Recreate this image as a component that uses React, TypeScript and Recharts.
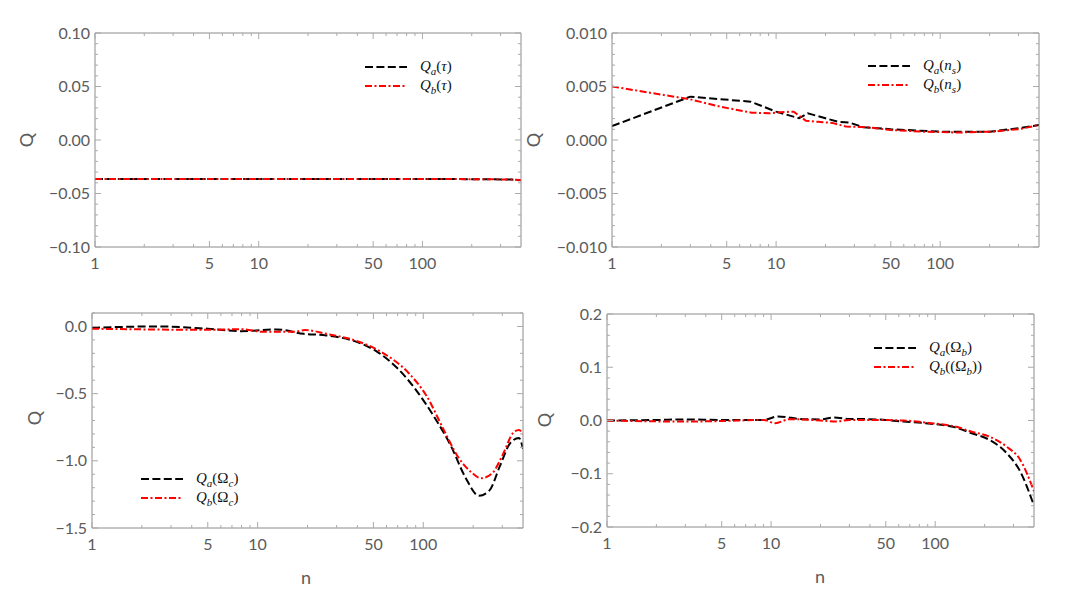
import React from 'react';
import { LineChart, Line, XAxis, YAxis, Legend } from 'recharts';

// shared n axis (log)
const nDomain = [1, 400];
const xMajor = [1, 5, 10, 50, 100];
const xMinor = [2, 3, 4, 6, 7, 8, 9, 20, 30, 40, 60, 70, 80, 90, 200, 300];

// Q(tau)
const nTauA = [1, 2, 5, 10, 20, 50, 100, 200, 300, 350, 400];
const qTauA = [-0.0365, -0.0365, -0.0365, -0.0365, -0.0365, -0.0365, -0.0365, -0.0366, -0.0368, -0.037, -0.0376];
const nTauB = [1, 2, 5, 10, 20, 50, 100, 200, 300, 350, 400];
const qTauB = [-0.0365, -0.0365, -0.0365, -0.0365, -0.0365, -0.0365, -0.0365, -0.0366, -0.0368, -0.037, -0.0375];
const tauMajor = [-0.1, -0.05, 0, 0.05, 0.1];
const tauMinor = [-0.09, -0.08, -0.07, -0.06, -0.04, -0.03, -0.02, -0.01, 0.01, 0.02, 0.03, 0.04, 0.06, 0.07, 0.08, 0.09];

// Q(n_s)
const nNsA = [1, 3, 7, 10, 13.8, 15.6, 20, 24, 28, 34, 50, 100, 200, 300, 400];
const qNsA = [0.0013, 0.00405, 0.00358, 0.00265, 0.00203, 0.0025, 0.00203, 0.0017, 0.00162, 0.0012, 0.001, 0.00078, 0.00078, 0.0011, 0.0014];
const nNsB = [1, 3, 4.6, 7.1, 9.1, 10.6, 12.8, 15.2, 18, 22, 26.7, 35.8, 50, 78, 127, 208, 307, 400];
const qNsB = [0.005, 0.0038, 0.0031, 0.00255, 0.0025, 0.0026, 0.00265, 0.0018, 0.0017, 0.0016, 0.00125, 0.0012, 0.00093, 0.00078, 0.0007, 0.00078, 0.00103, 0.0014];
const nsMajor = [-0.01, -0.005, 0, 0.005, 0.01];
const nsMinor = [-0.009, -0.008, -0.007, -0.006, -0.004, -0.003, -0.002, -0.001, 0.001, 0.002, 0.003, 0.004, 0.006, 0.007, 0.008, 0.009];

// Q(Omega_c)
const nOcA = [1, 2.5, 5, 8, 13, 19, 26, 40, 52, 71, 90, 116, 147, 179, 217, 251, 290, 334, 378, 400];
const qOcA = [-0.01, 0.0, -0.017, -0.035, -0.022, -0.055, -0.067, -0.117, -0.184, -0.32, -0.47, -0.67, -0.89, -1.12, -1.26, -1.22, -1.04, -0.87, -0.83, -0.91];
const nOcB = [1, 5, 8, 10.8, 16.7, 19.3, 26, 40, 55.8, 82, 105, 133, 162, 197, 223, 262, 303, 350, 378, 400];
const qOcB = [-0.017, -0.025, -0.02, -0.04, -0.04, -0.027, -0.055, -0.11, -0.19, -0.35, -0.52, -0.77, -0.97, -1.09, -1.13, -1.09, -0.95, -0.79, -0.77, -0.8];
const ocMajor = [-1.5, -1, -0.5, 0];
const ocMinor = [-1.4, -1.3, -1.2, -1.1, -0.9, -0.8, -0.7, -0.6, -0.4, -0.3, -0.2, -0.1, 0.1];

// Q(Omega_b)
const nObA = [1, 2, 3, 5, 9, 11, 15.6, 20, 24, 30, 39, 50, 64, 94, 131, 167, 213, 272, 330, 400];
const qObA = [0, 0.001, 0.002, 0.001, 0.001, 0.0075, 0.0025, 0.002, 0.0056, 0.003, 0.0025, 0.001, -0.002, -0.006, -0.0125, -0.024, -0.036, -0.061, -0.096, -0.16];
const nObB = [1, 3, 5, 9, 10.6, 13, 20, 25, 30, 40, 64, 94, 131, 167, 213, 272, 330, 400];
const qObB = [0, -0.002, -0.001, 0.001, -0.005, 0.0025, 0, -0.002, 0.001, 0.001, 0, -0.005, -0.011, -0.021, -0.03, -0.049, -0.074, -0.133];
const obMajor = [-0.2, -0.1, 0, 0.1, 0.2];
const obMinor = [-0.18, -0.16, -0.14, -0.12, -0.08, -0.06, -0.04, -0.02, 0.02, 0.04, 0.06, 0.08, 0.12, 0.14, 0.16, 0.18];

const FRAME = '#8c8c8c';
const TICK = '#aaaaaa';
const LABEL = '#5b5b5b';
const FONT = 'Lato, "Open Sans", sans-serif';
const DASH_A = '8 3.4';
const DASH_B = '7 2.5 2 2.5';

const isMajor = (v: number, majors: number[]) => majors.some((m) => Math.abs(m - v) < 1e-9);

const fmtY = (v: number, digits: number) => {
  const s = Math.abs(v).toFixed(digits);
  return v < -1e-12 ? '\u2212' + s : s;
};

const XTick = (props: any) => {
  const { x, y, payload, side } = props;
  const major = isMajor(payload.value, xMajor);
  const len = major ? 6 : 3;
  if (side === 'top') {
    return <line x1={x} x2={x} y1={y} y2={y + len} stroke={TICK} />;
  }
  return (
    <g>
      <line x1={x} x2={x} y1={y} y2={y - len} stroke={TICK} />
      {major && (
        <text x={x} y={y + 22} textAnchor="middle" fill={LABEL} fontSize={16} fontFamily={FONT}>
          {payload.value}
        </text>
      )}
    </g>
  );
};

const YTick = (props: any) => {
  const { x, y, payload, side, majors, digits } = props;
  const major = isMajor(payload.value, majors);
  const len = major ? 6 : 3;
  if (side === 'right') {
    return <line x1={x} x2={x - len} y1={y} y2={y} stroke={TICK} />;
  }
  return (
    <g>
      <line x1={x} x2={x + len} y1={y} y2={y} stroke={TICK} />
      {major && (
        <text x={x - 5} y={y + 5.5} textAnchor="end" fill={LABEL} fontSize={16} fontFamily={FONT}>
          {fmtY(payload.value, digits)}
        </text>
      )}
    </g>
  );
};

const Sub = ({ children }: { children: React.ReactNode }) => (
  <span style={{ fontSize: 11, position: 'relative', top: 4 }}>{children}</span>
);

const QLabel = ({ sub, arg, dbl }: { sub: string; arg: React.ReactNode; dbl?: boolean }) => (
  <span>
    <i>Q</i>
    <Sub>
      <i>{sub}</i>
    </Sub>
    {dbl ? '((' : '('}
    {arg}
    {dbl ? '))' : ')'}
  </span>
);

const LegendBox = ({ labels }: { labels: React.ReactNode[] }) => (
  <div style={{ fontFamily: '"Liberation Serif", serif', fontSize: 15, color: '#111', lineHeight: '19px' }}>
    {labels.map((lab, i) => (
      <div key={i} style={{ display: 'flex', alignItems: 'center', height: 19, whiteSpace: 'nowrap' }}>
        <svg width={42} height={6} style={{ display: 'block' }}>
          <line
            x1={0}
            x2={42}
            y1={3}
            y2={3}
            stroke={i === 0 ? '#000' : '#ff0000'}
            strokeWidth={2}
            strokeDasharray={i === 0 ? DASH_A : DASH_B}
          />
        </svg>
        <span style={{ marginLeft: 13 }}>{lab}</span>
      </div>
    ))}
  </div>
);

const toRows = (ns: number[], qs: number[]) => ns.map((n, i) => ({ n, q: qs[i] }));

interface PanelProps {
  box: number[];
  plot: number[];
  yDomain: number[];
  yMajor: number[];
  yMinor: number[];
  digits: number;
  nA: number[];
  qA: number[];
  nB: number[];
  qB: number[];
  curve: 'monotone' | 'linear';
  legend: React.ReactNode[];
  legendAt: number[];
}

const yW = 60;
const xH = 40;

const Panel = ({ box, plot, yDomain, yMajor, yMinor, digits, nA, qA, nB, qB, curve, legend, legendAt }: PanelProps) => {
  const [x0, y0, w, h] = box;
  const [l, t, r, b] = plot;
  const margin = { top: t - y0 - 1, left: l - x0 - yW, right: x0 + w - r - 1, bottom: y0 + h - b - xH };
  const xTicks = [...xMajor, ...xMinor];
  const yTicks = [...yMajor, ...yMinor];
  return (
    <div style={{ position: 'absolute', left: x0, top: y0 }}>
      <LineChart width={w} height={h} margin={margin}>
        <XAxis
          xAxisId="b"
          dataKey="n"
          type="number"
          scale="log"
          domain={nDomain}
          allowDataOverflow
          ticks={xTicks}
          interval={0}
          height={xH}
          tickSize={0}
          tickMargin={0}
          tickLine={false}
          axisLine={{ stroke: FRAME }}
          tick={(p: any) => <XTick {...p} side="bottom" />}
        />
        <XAxis
          xAxisId="t"
          orientation="top"
          dataKey="n"
          type="number"
          scale="log"
          domain={nDomain}
          allowDataOverflow
          ticks={xTicks}
          interval={0}
          height={1}
          tickSize={0}
          tickMargin={0}
          tickLine={false}
          axisLine={{ stroke: FRAME }}
          tick={(p: any) => <XTick {...p} side="top" />}
        />
        <YAxis
          yAxisId="l"
          type="number"
          domain={yDomain}
          allowDataOverflow
          ticks={yTicks}
          interval={0}
          width={yW}
          tickSize={0}
          tickMargin={0}
          tickLine={false}
          axisLine={{ stroke: FRAME }}
          tick={(p: any) => <YTick {...p} side="left" majors={yMajor} digits={digits} />}
        />
        <YAxis
          yAxisId="r"
          orientation="right"
          type="number"
          domain={yDomain}
          allowDataOverflow
          ticks={yTicks}
          interval={0}
          width={1}
          tickSize={0}
          tickMargin={0}
          tickLine={false}
          axisLine={{ stroke: FRAME }}
          tick={(p: any) => <YTick {...p} side="right" majors={yMajor} digits={digits} />}
        />
        <Line
          xAxisId="b"
          yAxisId="l"
          data={toRows(nA, qA)}
          dataKey="q"
          type={curve}
          stroke="#000"
          strokeWidth={2}
          strokeDasharray={DASH_A}
          dot={false}
          activeDot={false}
          isAnimationActive={false}
        />
        <Line
          xAxisId="b"
          yAxisId="l"
          data={toRows(nB, qB)}
          dataKey="q"
          type={curve}
          stroke="#ff0000"
          strokeWidth={2}
          strokeDasharray={DASH_B}
          dot={false}
          activeDot={false}
          isAnimationActive={false}
        />
        <Legend
          verticalAlign="middle"
          align="center"
          layout="horizontal"
          wrapperStyle={{ left: legendAt[0] - x0, top: legendAt[1] - y0, width: 'auto', height: 'auto' }}
          content={() => <LegendBox labels={legend} />}
        />
      </LineChart>
    </div>
  );
};

const AxisText = ({ x, y, text, rotate }: { x: number; y: number; text: string; rotate?: boolean }) => (
  <div
    style={{
      position: 'absolute',
      left: x,
      top: y,
      transform: `translate(-50%, -50%)${rotate ? ' rotate(-90deg)' : ''}`,
      fontFamily: FONT,
      fontSize: 18,
      color: LABEL,
      lineHeight: 1,
    }}
  >
    {text}
  </div>
);

export default function App() {
  return (
    <div style={{ position: 'absolute', left: 0, top: 0, width: 1084, height: 603, background: '#fff', overflow: 'hidden' }}>
      <Panel
        box={[0, 0, 542, 301]}
        plot={[95, 33, 521, 247]}
        yDomain={[-0.1, 0.1]}
        yMajor={tauMajor}
        yMinor={tauMinor}
        digits={2}
        nA={nTauA}
        qA={qTauA}
        nB={nTauB}
        qB={qTauB}
        curve="monotone"
        legend={[<QLabel sub="a" arg={<i>τ</i>} />, <QLabel sub="b" arg={<i>τ</i>} />]}
        legendAt={[365, 57]}
      />
      <Panel
        box={[542, 0, 542, 301]}
        plot={[612, 33, 1039, 247]}
        yDomain={[-0.01, 0.01]}
        yMajor={nsMajor}
        yMinor={nsMinor}
        digits={3}
        nA={nNsA}
        qA={qNsA}
        nB={nNsB}
        qB={qNsB}
        curve="linear"
        legend={[
          <QLabel sub="a" arg={<i>n<Sub>s</Sub></i>} />,
          <QLabel sub="b" arg={<i>n<Sub>s</Sub></i>} />,
        ]}
        legendAt={[868, 56]}
      />
      <Panel
        box={[0, 301, 542, 302]}
        plot={[92, 313, 523, 528]}
        yDomain={[-1.5, 0.1]}
        yMajor={ocMajor}
        yMinor={ocMinor}
        digits={1}
        nA={nOcA}
        qA={qOcA}
        nB={nOcB}
        qB={qOcB}
        curve="monotone"
        legend={[
          <QLabel sub="a" arg={<span>Ω<Sub><i>c</i></Sub></span>} />,
          <QLabel sub="b" arg={<span>Ω<Sub><i>c</i></Sub></span>} />,
        ]}
        legendAt={[141, 469]}
      />
      <Panel
        box={[542, 301, 542, 302]}
        plot={[607, 314, 1034, 527]}
        yDomain={[-0.2, 0.2]}
        yMajor={obMajor}
        yMinor={obMinor}
        digits={1}
        nA={nObA}
        qA={qObA}
        nB={nObB}
        qB={qObB}
        curve="monotone"
        legend={[
          <QLabel sub="a" arg={<span>Ω<Sub><i>b</i></Sub></span>} />,
          <QLabel sub="b" arg={<span>Ω<Sub><i>b</i></Sub></span>} dbl />,
        ]}
        legendAt={[874, 338]}
      />
      <AxisText x={26} y={140} text="Q" rotate />
      <AxisText x={533} y={140} text="Q" rotate />
      <AxisText x={34} y={418} text="Q" rotate />
      <AxisText x={544} y={420} text="Q" rotate />
      <AxisText x={306} y={577} text="n" />
      <AxisText x={820} y={576} text="n" />
    </div>
  );
}
